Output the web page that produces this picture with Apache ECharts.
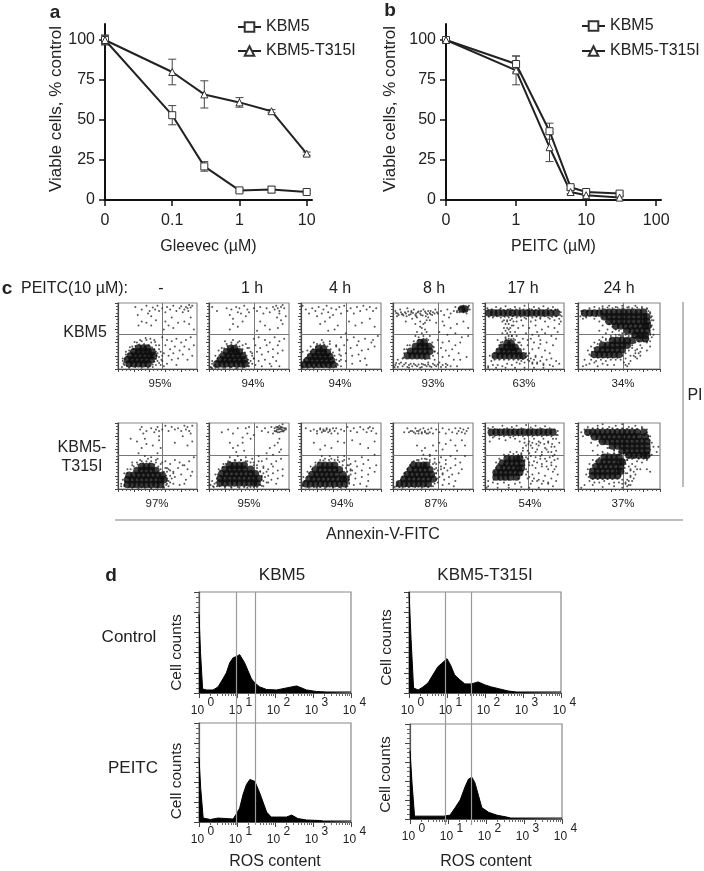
<!DOCTYPE html>
<html><head><meta charset="utf-8"><style>html,body{margin:0;padding:0;background:#fff}#c{width:704px;height:871px}</style>
<script src="https://cdn.jsdelivr.net/npm/echarts@6/dist/echarts.min.js"></script></head>
<body><div id="c"></div><script>
// ---------- panels a, b : viability curves
const seriesNames=['KBM5','KBM5-T315I'];
const aDoses=[0.01,0.1,0.3,1,3,10];
const aKBM5=[100,53,21,6,6.5,5];
const aKBM5Err=[3,6,3,1,2,1];
const aT315I=[100,80,66,61,55.5,29];
const aT315IErr=[3,8,8.5,3,1,1];
const aTicks=[0.01,0.1,1,10];
const aTickLabels=['0','0.1','1','10'];
const bDoses=[0.1,1,3,6,10,30];
const bKBM5=[100,85,43,8,5,4];
const bKBM5Err=[1,5,5,1,1,1];
const bT315I=[100,81,33,5,3,1.5];
const bT315IErr=[1,9,9,1,1,1];
const bTicks=[0.1,1,10,100];
const bTickLabels=['0','1','10','100'];
const viabilityTicks=[0,25,50,75,100];
// ---------- panel c : annexin / PI dot plots (x,y in % of the plot, read by eye)
const timeLabels=['-','1 h','4 h','8 h','17 h','24 h'];
const kbm5Pct=['95%','94%','94%','93%','63%','34%'];
const t315Pct=['97%','95%','94%','87%','54%','37%'];
// dense populations: rows of [y, x, x, ...]
const core1=[[8,14,20,26,32,38],[14,12,18,24,30,36,42],[20,16,22,28,34,40,45],[26,20,26,32,38,43],[32,26,32,37]];
const core2=[[8,10,16,22,28,34,40,45],[14,14,20,26,32,38,44],[20,18,24,30,36,42],[26,22,28,34,38],[31,27,32]];
const core3=[[7,4,10,16,22,28,34,40],[13,8,14,20,26,32,38],[19,12,18,24,30,36],[25,16,22,28,33],[31,22,28]];
const core4=[[20,18,24,30,36,42],[27,22,28,34,40,46],[34,28,34,40,45],[40,34,39],[91,86,90]];
const core5=[[85,5,11,17,23,29,35,41,47,53,59,65,71,77,83,90],[20,13,19,25,31,37,43,48],[27,18,24,30,36,42],[33,22,28,34,38],[39,28,33]];
const core6=[[85,8,14,20,26],[86,32,38,44,50,56,62,68,74,80],[79,32,38,44,50,56,62,68,74,80,84],[72,38,44,50,56,62,68,74,80,84],[65,46,52,58,64,70,76,82,85],[58,60,66,72,78,84],[51,70,76,82],[46,75,82],[22,20,26,32,38,44,50],[29,24,30,36,42,48,54],[36,30,36,42,48,54,60],[43,42,48,54,60,66]];
const core7=[[7,12,18,24,30,36,42,48,54],[14,12,18,24,30,36,42,48,54,58],[21,14,20,26,32,38,44,50,56],[28,24,30,36,42,48],[34,30,36,42]];
const core8=[[9,14,20,26,32,38,44,50,56,60],[16,14,20,26,32,38,44,50,56,62],[23,16,22,28,34,40,46,52,58],[30,20,26,32,38,44,52],[36,26,32,38,44]];
const core9=[[8,6,12,18,24,30,36,42,48,54],[15,10,16,22,28,34,40,46,52,56],[22,14,20,26,32,38,44,52],[29,18,24,30,36,42,48],[36,24,30,36,42]];
const core10=[[8,8,14,20,26,32,38,44],[15,14,20,26,32,38,44,50],[22,18,24,30,36,42,48],[29,22,28,34,40,46],[36,26,32,38,42]];
const core11=[[86,8,14,20,26,32,38,44,50,56,62,68,74,80,86],[18,14,20,26,32,40],[25,14,20,26,32,38,44],[32,18,24,30,36,42,46],[39,22,28,34,40,46],[46,28,34,40,44]];
const core12=[[86,12,18,24,30,36,42,48,54,60,66,72,80],[79,20,26,32,38,44,50,56,62,68,74,82],[72,30,36,42,48,54,60,66,72,78,84],[65,42,48,54,60,66,72,78,84],[58,54,60,66,72,78,84],[51,62,68,74,80,84],[20,18,24,30,36,42,48],[27,18,24,30,36,42,48,52],[34,22,28,34,40,46,52],[41,26,32,38,44,50,54],[48,32,38,44,50]];
// loose events: flat x,y,x,y,...
const dots1=[22,94,30,90,36,96,40,88,44,93,47,90,50,96,38,84,42,80,25,82,30,72,36,70,42,66,26,66,48,74,52,88,56,92,60,86,62,94,66,90,70,96,74,88,78,92,80,95,84,90,86,94,88,92,90,97,92,93,94,96,89,88,82,86,60,72,64,66,70,62,76,70,84,72,90,68,96,60,68,78,92,78,58,60,56,48,62,44,68,42,74,46,80,40,86,44,92,48,60,36,66,30,72,34,78,28,84,34,90,30,96,36,58,24,64,20,70,24,76,16,82,22,88,14,94,20,56,12,62,8,68,14,74,6,8,6,6,12,10,22,14,28,18,34,24,40,30,42,36,44,42,40,48,36,52,30,50,24,52,18,50,12,48,6,44,3,38,2,30,2,22,3,14,2,5,3,46,44,20,30,54,6,58,4];
const dots2=[4,94,10,88,22,92,26,82,28,90,30,76,34,94,36,86,38,92,40,84,44,96,48,90,46,80,50,86,30,68,36,64,42,72,26,60,56,92,60,88,64,94,68,84,72,92,76,86,80,94,82,90,84,96,86,92,88,88,90,94,92,97,94,92,88,84,85,78,90,74,92,68,86,62,70,66,60,58,96,80,64,72,76,60,56,46,62,48,70,44,76,40,82,48,88,42,94,46,58,36,64,32,72,36,80,30,86,36,92,28,60,26,66,22,74,26,80,18,86,24,56,16,62,12,70,14,76,8,84,12,58,6,66,4,78,4,88,4,2,3,6,5,4,12,8,20,12,28,16,32,22,38,28,40,36,40,42,36,48,32,52,26,54,20,52,12,50,4,44,3,36,2,28,3,20,2,12,2,4,1,8,2];
const dots3=[2,96,6,90,10,84,14,92,18,88,20,80,22,94,26,84,28,90,30,72,32,96,34,86,36,78,38,92,40,82,44,90,46,66,24,68,34,58,42,60,48,94,50,84,54,96,58,88,62,92,66,84,70,94,74,88,78,96,82,90,86,94,90,88,94,92,60,72,68,66,76,70,86,76,92,64,56,54,50,48,58,44,66,48,72,42,80,46,88,40,54,36,62,32,70,36,76,28,84,30,92,34,56,24,64,20,72,22,80,16,56,12,64,8,74,12,82,6,50,4,44,3,36,2,26,3,16,2,8,2,2,2,4,14,2,26,8,28,12,34,20,38,28,40,36,38,44,36,48,28,50,20,48,12,46,6,90,44,96,50];
const dots4=[3,88,6,84,9,90,12,83,15,86,18,92,20,82,23,86,26,90,29,84,32,87,35,82,38,90,41,85,44,88,47,83,50,86,53,90,56,84,60,88,64,82,68,90,72,84,76,88,80,86,82,90,84,92,88,86,90,90,94,94,96,90,92,84,78,94,70,78,62,72,54,70,46,74,40,70,34,72,28,68,36,62,42,56,30,56,38,50,46,50,24,76,16,72,64,66,72,62,80,68,88,72,94,62,58,56,68,52,78,54,86,48,94,50,56,44,62,40,70,42,78,36,84,40,60,32,66,28,74,30,82,24,56,24,62,18,70,20,76,14,84,14,92,18,52,14,58,10,66,8,72,4,80,4,52,6,46,4,40,6,34,2,28,6,22,8,16,9,10,10,6,14,4,9,12,16,14,30,18,36,50,34,52,26,2,3,20,2,36,8,44,10];
const dots5=[3,92,8,90,14,94,20,92,26,95,32,91,38,94,44,92,50,96,56,91,62,94,68,92,74,95,80,92,86,94,92,90,96,86,97,80,94,76,88,74,82,76,76,72,70,76,64,74,58,72,52,76,46,74,40,72,34,76,28,74,22,72,36,66,42,62,24,62,22,54,32,62,38,56,34,50,26,48,48,66,56,62,64,66,72,60,80,64,88,62,94,68,52,54,60,52,68,50,76,54,84,50,90,46,54,44,62,40,70,44,78,40,86,36,54,36,60,30,68,32,76,28,82,24,56,24,64,20,72,18,78,14,84,16,90,12,54,14,60,10,66,8,74,6,82,6,46,12,40,10,34,6,28,8,22,4,16,6,10,6,4,4,8,12,12,14,6,20,16,44,20,40,44,40,48,46,40,50,4,2,14,2,26,2,38,2,50,2,62,2,74,2,86,4,94,8,70,38,58,46,66,56,92,56,96,72];
const dots6=[4,88,3,80,6,76,10,78,14,92,20,94,26,92,30,95,38,96,46,94,54,96,62,94,70,96,78,94,84,92,88,86,90,80,92,74,90,66,92,60,88,54,90,48,88,42,84,40,92,52,20,76,26,72,30,66,36,60,42,56,34,54,26,58,30,48,40,50,46,52,52,50,60,46,66,36,70,40,76,36,72,30,78,32,70,24,76,26,64,20,70,18,76,20,58,16,64,12,52,14,46,14,40,14,34,12,28,14,22,12,16,14,14,22,12,28,16,34,20,40,26,44,34,46,14,8,20,10,8,14,10,6,24,4,30,8,6,4,62,8,60,4,58,6,56,10,36,6,44,6,88,34,84,28];
const dots7=[28,90,32,84,30,94,36,88,42,92,46,86,48,90,50,94,52,88,16,76,24,72,34,76,30,62,36,68,44,66,52,74,54,62,50,54,52,80,26,54,34,50,42,48,50,46,56,90,60,96,64,88,68,94,72,90,76,92,80,88,84,96,86,90,88,94,90,88,92,84,94,96,82,80,72,70,88,66,94,72,60,42,66,38,72,44,78,40,84,36,90,42,96,48,64,30,70,26,76,32,82,36,88,30,94,26,66,20,72,18,80,22,86,14,92,20,64,12,70,8,78,6,84,8,64,4,8,4,4,8,6,14,8,24,12,30,18,36,24,40,30,42,36,42,42,42,48,40,54,38,60,32,62,26,62,16,62,8,58,3,50,2,42,1,34,2,26,1,18,2];
const dots8=[16,86,24,90,30,84,36,92,42,78,46,92,48,84,50,94,26,70,30,62,36,66,42,70,34,56,44,58,52,76,56,82,60,94,66,88,70,92,74,86,78,94,82,92,84,88,86,94,88,86,90,94,92,88,94,92,96,90,80,84,88,76,76,62,82,66,86,70,90,60,62,50,72,54,80,52,88,56,66,42,72,46,78,38,84,42,90,46,68,32,74,30,80,34,86,28,92,30,68,24,74,20,80,24,86,16,92,20,66,14,72,10,78,14,84,8,68,4,2,6,4,12,6,3,10,4,8,22,12,30,18,38,24,42,32,44,40,44,48,42,56,40,60,36,64,26,66,18,64,6,56,3,48,2,38,2,28,2,20,2,92,98];
const dots9=[6,92,12,88,16,90,20,84,24,92,26,86,28,90,30,88,32,92,34,86,36,90,38,84,40,92,42,88,44,92,46,84,50,90,54,88,58,94,62,88,66,92,70,86,74,94,78,90,82,86,84,92,86,94,88,88,90,92,94,84,16,70,24,60,30,66,38,62,46,72,54,70,64,74,74,68,84,62,92,72,54,50,60,46,68,42,76,48,84,44,92,52,62,38,70,34,78,38,86,32,94,36,62,28,68,24,76,28,84,22,92,26,60,20,68,16,76,18,84,12,60,10,66,6,74,8,82,4,2,4,4,10,3,18,8,26,12,34,18,40,24,44,30,46,38,46,46,44,52,42,58,36,62,30,60,14,58,4,50,2,40,2,30,1,20,2,10,2];
const dots10=[14,86,18,92,22,88,26,86,28,92,30,88,32,84,34,90,36,86,38,92,40,88,42,84,44,90,46,86,48,92,50,84,54,90,58,86,62,92,66,84,70,90,74,86,78,92,80,84,82,88,84,92,86,86,88,90,90,84,92,88,94,92,30,66,36,58,40,62,46,52,50,66,54,58,58,70,62,60,66,68,72,74,78,66,80,58,86,74,90,66,60,48,66,44,72,50,78,46,84,40,90,50,54,38,60,34,66,38,72,32,78,36,86,30,56,28,62,24,68,28,74,22,82,24,58,18,64,14,70,18,78,12,56,10,62,6,70,8,76,4,4,4,2,3,6,6,10,14,14,24,18,30,22,36,26,42,32,44,40,46,46,44,52,40,54,32,54,24,54,14,50,4,44,3,36,2,28,3,20,3,12,2];
const dots11=[4,92,10,94,16,90,22,96,28,92,34,94,40,96,46,92,52,97,58,93,64,96,70,92,76,95,82,92,88,90,92,82,90,76,94,70,86,76,80,70,74,76,68,72,62,76,56,72,50,76,44,72,38,76,32,78,26,74,18,76,10,78,6,72,52,66,60,62,68,66,76,62,84,64,90,58,48,58,56,54,64,56,72,52,80,56,86,50,92,46,54,46,62,42,70,46,78,42,84,40,90,34,56,36,64,32,72,34,80,30,86,26,92,22,54,26,60,22,68,24,76,20,84,16,90,12,54,16,60,12,58,8,66,12,72,8,80,8,86,4,44,10,38,8,30,6,24,10,16,8,10,10,4,4,4,12,14,40,18,46,24,52,32,56,40,56,46,52,50,42,52,30,2,2,16,2,30,2,46,3,56,2,68,2];
const dots12=[4,86,6,80,8,90,12,94,18,92,24,96,30,98,38,94,46,96,54,98,62,94,70,96,78,94,84,90,88,80,90,70,88,60,92,64,90,52,84,44,78,40,72,42,66,46,60,44,70,34,76,30,64,28,58,24,64,18,70,22,62,12,58,8,54,14,50,10,44,10,38,8,32,12,26,10,20,10,14,12,10,22,12,30,14,38,18,44,24,52,30,56,36,62,24,66,16,70,18,58,30,72,44,58,52,54,58,52,96,56,98,64,84,30,88,26,64,6,60,4,54,2,44,4,30,3,18,6,8,6,4,2];
// fringe of the dense populations: flat x,y,x,y,...
const fringe1=[8,10,9,15,7,8,11,19,13,23,16,26,19,31,22,35,27,37,33,38,39,36,43,33,46,30,48,26,49,20,48,15,46,11,44,7,40,4,35,4,28,4,22,4,16,4,11,5,6,16,10,26,15,33,21,41,28,44,35,47,41,46,47,41,52,36,54,26,56,20,55,14,52,9];
const fringe2=[8,6,9,11,11,16,13,21,16,26,19,31,23,35,28,37,34,37,38,34,42,30,45,25,47,20,49,14,50,9,49,4,44,4,38,4,32,4,26,4,20,4,14,4,8,4,4,8,3,2,10,3,18,2,26,2,34,1,42,2,54,8,56,16,54,24,50,32,46,38,38,42,30,44,20,42];
const fringe3=[1,5,2,9,4,13,7,17,9,21,12,26,15,30,19,34,24,37,29,37,33,34,37,30,40,25,42,20,44,14,45,8,44,4,38,4,32,4,26,4,20,4,14,4,8,4,2,4,48,22,50,14,48,30,44,34,36,42,26,44,16,40];
const fringe4=[4,85,7,82,10,86,13,81,16,84,19,87,22,83,25,85,28,82,31,86,34,84,37,81,40,87,43,83,46,85,49,82,52,84,55,86,5,80,11,83,17,80,23,88,29,80,35,88,41,80,47,88,80,88,83,86,85,94,88,96,91,88,93,90,95,96,82,92,32,48,36,54,40,60,34,64,38,68,42,74,30,78,44,78,36,44,42,46,28,50,3,6,6,3,8,8,12,4,14,7,18,3,20,6,24,4,26,8,30,4,32,7,36,3,38,7,42,4,44,7,48,3,50,8,54,4,56,7,60,3,62,6,66,3,68,6,13,17,14,24,17,30,21,36,26,42,32,44,38,46,44,44,49,40,51,33,52,27,50,20,46,16,40,15];
const fringe5=[5,79,10,78,15,80,20,78,25,79,30,78,35,80,40,78,45,79,50,78,55,80,60,78,65,79,70,78,75,80,80,78,85,79,90,80,95,82,4,89,9,90,14,89,19,90,24,89,29,90,34,89,39,90,44,89,49,90,54,89,59,90,64,89,69,90,74,89,79,90,84,89,89,90,94,87,24,74,28,72,32,74,36,72,26,68,30,68,34,66,28,62,30,60,26,58,32,56,28,54,30,50,34,50,26,46,30,46,36,46,10,18,12,24,15,30,18,36,22,41,27,44,33,45,38,44,42,40,46,36,49,30,52,24,52,18,48,15,42,14,36,14,30,14,24,14,18,14,54,20,58,16,62,14,56,12,60,8,66,10,64,18,70,12,74,8,50,10,44,8];
const fringe6=[86,88,88,84,89,78,90,74,88,70,89,64,87,58,88,52,86,46,84,42,80,42,74,42,30,92,36,93,42,92,48,93,54,92,60,93,66,92,72,93,78,92,84,91,28,84,30,78,34,72,38,68,42,64,46,60,50,58,54,54,58,52,62,50,66,50,5,84,6,88,10,80,12,88,16,81,18,88,22,80,24,88,28,88,50,52,54,50,70,48,16,20,17,26,20,32,24,38,28,42,34,44,40,46,46,48,52,47,56,44,62,38,66,32,62,28,58,24,54,20,48,17,42,17,36,17,30,17,24,17,70,28,74,24,68,20,72,16];
const fringe7=[8,6,9,12,10,18,12,24,16,30,20,34,25,37,32,39,40,39,46,37,51,34,54,30,58,26,61,20,62,13,61,6,58,2,50,3,40,3,30,3,20,3,14,3,66,10,68,16,70,24,62,32,56,40,48,44,38,46,28,44,18,40,66,28,4,4];
const fringe8=[9,10,10,16,11,22,14,28,17,33,21,38,26,41,33,43,40,44,46,42,52,40,56,36,60,32,64,27,66,20,68,12,66,5,60,3,52,3,44,3,36,3,28,3,20,4,13,4,7,8,5,4,70,18,72,26,68,34,62,42,54,46,46,48,36,50,26,48,74,10,82,88,84,94,86,86,88,92,90,87,92,93,94,89,96,92,88,96,85,90,87,90,89,91,91,90,86,93,90,93,84,87,93,87];
const fringe9=[3,6,5,12,8,18,10,24,14,30,18,36,22,40,28,43,35,44,42,44,48,41,52,36,56,32,58,26,60,18,60,8,56,3,48,3,40,3,32,3,24,3,16,3,8,3,62,22,64,28,60,36,54,44,46,48,36,50,26,50,20,88,24,90,28,88,32,90,36,88];
const fringe10=[5,5,6,10,10,13,12,18,15,24,18,30,21,36,24,41,30,44,36,46,42,45,46,41,50,38,52,30,54,24,55,16,52,8,48,4,40,4,32,4,24,4,16,4,8,3,60,30,62,22,64,32,58,40,52,46,46,50,38,52,20,86,24,88,28,84,32,88,36,84,40,86,44,84];
const fringe11=[6,81,12,80,18,81,24,80,30,81,36,80,42,81,48,80,54,81,60,80,66,81,72,80,78,81,84,80,90,82,6,90,12,91,18,90,24,91,30,90,36,91,42,90,48,91,54,90,60,91,66,90,72,91,78,90,84,90,92,88,50,70,55,68,60,70,65,68,70,70,75,68,80,72,85,68,88,64,48,62,54,58,58,66,66,60,72,56,78,60,84,56,88,52,46,54,52,48,58,50,64,48,70,50,76,46,82,48,88,44,50,44,56,40,60,36,66,40,72,38,78,34,84,36,88,30,11,14,12,20,12,26,14,32,17,38,20,44,25,50,30,52,36,53,42,52,47,49,49,42,50,36,48,28,46,22,42,16,36,14,30,14,24,14,18,14,52,22,56,18,62,16,68,14,74,12,80,10];
const fringe12=[10,88,12,82,18,84,24,92,30,92,36,91,42,92,48,91,54,92,60,91,66,92,72,91,78,92,84,86,86,80,87,74,87,68,87,62,86,56,87,50,84,46,80,46,74,46,68,48,62,48,16,80,22,75,26,72,32,68,38,62,44,60,50,56,56,54,60,52,56,44,60,44,58,38,62,34,66,38,64,30,68,26,72,30,60,24,64,20,68,16,13,18,14,24,15,30,18,36,22,42,26,47,30,52,36,54,44,54,50,52,54,46,56,40,57,32,55,26,52,20,48,16,42,15,36,15,30,15,24,15,18,15,58,10,60,14,62,6,66,12,54,8];
// ---------- panel d : ROS histograms (x = decade of fluorescence, y = % of plot height)
const histKBM5Control=[[0,78],[0.035,78],[0.04,40],[0.09,40],[0.095,4],[0.2,3],[0.37,3],[0.5,6],[0.63,14],[0.72,20],[0.81,30],[0.9,35],[0.98,36],[1.07,38],[1.12,39],[1.2,30],[1.29,22],[1.38,14],[1.47,10],[1.6,6],[1.78,3.5],[2.04,3],[2.3,5],[2.57,7],[2.83,3],[3.09,1.5],[3.36,1],[4,1]];
const histT315Control=[[0,100],[0.05,100],[0.055,53],[0.09,53],[0.12,5],[0.24,3],[0.37,6],[0.5,10],[0.63,18],[0.76,26],[0.85,29],[1,34],[1.09,28],[1.2,18],[1.34,13],[1.47,9],[1.64,9],[1.82,11],[2,8],[2.17,6],[2.39,4],[2.61,2],[2.83,1],[4,1]];
const histKBM5Peitc=[[0,65],[0.04,65],[0.045,34],[0.09,34],[0.11,4],[0.3,2.5],[0.5,4],[0.9,3],[0.98,8],[1.07,14],[1.16,28],[1.25,38],[1.34,43],[1.47,41],[1.56,33],[1.64,25],[1.78,10],[1.9,5],[2.04,5],[2.3,5],[2.44,7],[2.6,3.5],[2.83,2],[3.18,1.5],[3.27,1],[4,1]];
const histT315Peitc=[[0,72],[0.05,72],[0.055,37],[0.09,37],[0.12,3],[0.5,3],[0.88,3],[1.05,4],[1.19,12],[1.32,20],[1.45,34],[1.54,42],[1.63,44],[1.71,38],[1.8,25],[1.89,12],[2.07,7],[2.29,4],[2.55,2],[2.65,1],[4,1]];
const decades=[0,1,2,3,4];
const minorDecades=[0.30,0.48,0.60,0.70,0.78,0.85,0.90,0.95,1.30,1.48,1.60,1.70,1.78,1.85,1.90,1.95,2.30,2.48,2.60,2.70,2.78,2.85,2.90,2.95,3.30,3.48,3.60,3.70,3.78,3.85,3.90,3.95];
const gatesLeft=[0.97,1.48];
const gatesRight=[0.95,1.63];

const FONT='"Liberation Sans",Arial,sans-serif', INK='#222';
const grid=[],xAxis=[],yAxis=[],series=[],graphic=[];
const txt=(t,x,y,s=16,o={})=>graphic.push({type:'text',x,y,z:10,style:Object.assign({text:t,fill:INK,font:`${o.bold?'bold ':''}${s}px ${FONT}`,align:o.align||'center',verticalAlign:'middle'},o.style||{})});
const rule=(x1,y1,x2,y2)=>graphic.push({type:'line',z:5,shape:{x1,y1,x2,y2},style:{stroke:'#aaa',lineWidth:1.6}});

function errSeries(xs,ys,errs,g){
  return {type:'custom',xAxisIndex:g,yAxisIndex:g,z:3,silent:true,clip:false,encode:{x:0,y:[1,2]},
    data:xs.map((x,i)=>[x,ys[i]-errs[i],ys[i]+errs[i]]),
    renderItem(p,api){
      const a=api.coord([api.value(0),api.value(1)]),b=api.coord([api.value(0),api.value(2)]);
      const st={stroke:'#444',lineWidth:1,fill:null};
      return {type:'group',children:[
        {type:'line',shape:{x1:a[0],y1:a[1],x2:b[0],y2:b[1]},style:st},
        {type:'line',shape:{x1:a[0]-4,y1:a[1],x2:a[0]+4,y2:a[1]},style:st},
        {type:'line',shape:{x1:b[0]-4,y1:b[1],x2:b[0]+4,y2:b[1]},style:st}]};
    }};
}
function curvePanel(left,width,xmin,xmax,ticks,labels,xName,doses,v1,e1,v2,e2,yGap){
  const g=grid.length;
  grid.push({left,width,top:24,height:176});
  xAxis.push({gridIndex:g,type:'log',min:xmin,max:xmax,name:xName,nameLocation:'middle',nameGap:39,
    nameTextStyle:{fontSize:16,color:INK,fontFamily:FONT},
    axisLine:{onZero:false,lineStyle:{color:'#111',width:2}},splitLine:{show:false},minorTick:{show:false},
    axisTick:{length:6,lineStyle:{color:'#111',width:1.5},customValues:ticks},
    axisLabel:{fontSize:16,color:INK,fontFamily:FONT,margin:13,customValues:ticks,showMaxLabel:true,hideOverlap:false,formatter:v=>{const i=ticks.findIndex(t=>Math.abs(t-v)<t*1e-6);return i<0?'':labels[i];}}});
  yAxis.push({gridIndex:g,type:'value',min:0,max:110,name:'Viable cells, % control',nameLocation:'middle',nameGap:yGap,
    nameTextStyle:{fontSize:17,color:INK,fontFamily:FONT,padding:[0,0,0,6]},
    axisLine:{show:true,lineStyle:{color:'#111',width:2}},splitLine:{show:false},
    axisTick:{show:true,length:6,lineStyle:{color:'#111',width:1.5},customValues:viabilityTicks},
    axisLabel:{fontSize:16,color:INK,fontFamily:FONT,margin:10,customValues:viabilityTicks}});
  series.push(errSeries(doses,v1,e1,g),errSeries(doses,v2,e2,g));
  [[seriesNames[0],v1,'rect',7],[seriesNames[1],v2,'triangle',7]].forEach(([name,v,symbol,symbolSize])=>series.push({
    type:'line',name,xAxisIndex:g,yAxisIndex:g,z:4,symbol,symbolSize,showAllSymbol:true,clip:false,
    data:doses.map((d,i)=>[d,v[i]]),lineStyle:{color:INK,width:2},
    itemStyle:{color:'#fff',borderColor:'#333',borderWidth:1}}));
}
curvePanel(105,207,0.01,12,aTicks,aTickLabels,'Gleevec (µM)',aDoses,aKBM5,aKBM5Err,aT315I,aT315IErr,40);
curvePanel(446,215,0.1,117,bTicks,bTickLabels,'PEITC (µM)',bDoses,bKBM5,bKBM5Err,bT315I,bT315IErr,47);

const pairs=f=>{const o=[];for(let i=0;i<f.length;i+=2)o.push([f[i],f[i+1]]);return o;};
const rows=r=>r.flatMap(([y,...xs])=>xs.map(x=>[x,y]));
function dotPlot(left,right,top,bottom,cx,cy,core,dots){
  const g=grid.length;
  grid.push({left,width:right-left,top,height:bottom-top,show:true,borderColor:'#888',borderWidth:1.2,backgroundColor:'transparent'});
  const tk=(show)=>({show,length:3,lineStyle:{color:'#444',width:1}});
  xAxis.push({gridIndex:g,type:'value',min:0,max:100,interval:20,axisLabel:{show:false},splitLine:{show:false},
    axisLine:{onZero:false,lineStyle:{color:'#444',width:1.2}},axisTick:tk(true),minorTick:{show:true,splitNumber:4,length:2,lineStyle:{color:'#555'}}});
  yAxis.push({gridIndex:g,type:'value',min:0,max:100,interval:20,axisLabel:{show:false},splitLine:{show:false},
    axisLine:{show:true,onZero:false,lineStyle:{color:'#444',width:1.2}},axisTick:tk(true),minorTick:{show:true,splitNumber:4,length:2,lineStyle:{color:'#555'}}});
  series.push({type:'scatter',xAxisIndex:g,yAxisIndex:g,z:2,silent:true,symbolSize:2,data:pairs(dots),itemStyle:{color:'#2a2a2a'},
    markLine:{silent:true,symbol:'none',animation:false,label:{show:false},z:1,lineStyle:{color:'#777',width:1,type:'solid'},data:[{xAxis:cx},{yAxis:cy}]}});
  series.push({type:'scatter',xAxisIndex:g,yAxisIndex:g,z:3,silent:true,symbolSize:7.5,data:rows(core),itemStyle:{color:'#0c0c0c'}});
}
const colEdges=[[118,197],[209,289],[301,381],[393,473],[485,564],[578,660]];
const crossX=[56,56,56,56,55,55];
const topDots=[dots1.concat(fringe1),dots2.concat(fringe2),dots3.concat(fringe3),dots4.concat(fringe4),dots5.concat(fringe5),dots6.concat(fringe6)];
const botDots=[dots7.concat(fringe7),dots8.concat(fringe8),dots9.concat(fringe9),dots10.concat(fringe10),dots11.concat(fringe11),dots12.concat(fringe12)];
[core1,core2,core3,core4,core5,core6].forEach((c,i)=>dotPlot(colEdges[i][0],colEdges[i][1],303,369,crossX[i],52,c,topDots[i]));
[core7,core8,core9,core10,core11,core12].forEach((c,i)=>dotPlot(colEdges[i][0],colEdges[i][1],423,489,crossX[i],51,c,botDots[i]));

function overlay(left,right,gates){
  const g=grid.length;
  grid.push({left,width:right-left,top:592,height:233});
  xAxis.push({gridIndex:g,type:'value',min:0,max:4,show:false});
  yAxis.push({gridIndex:g,type:'value',min:0,max:100,show:false});
  series.push({type:'scatter',xAxisIndex:g,yAxisIndex:g,data:[],z:1,markLine:{silent:true,symbol:'none',animation:false,label:{show:false},lineStyle:{color:'#999',width:1.2,type:'solid'},data:gates.map(v=>({xAxis:v}))}});
}
overlay(199,351,gatesLeft);
overlay(409,561,gatesRight);
function histPlot(left,right,top,bottom,data,namePad,xName,nameGapY,xGap){
  const g=grid.length;
  grid.push({left,width:right-left,top,height:bottom-top,show:true,borderColor:'#888',borderWidth:1.2,backgroundColor:'transparent'});
  const base={gridIndex:g,type:'value',min:0,max:4,position:'bottom',splitLine:{show:false}};
  xAxis.push(Object.assign({},base,{interval:1,name:xName,nameLocation:'middle',nameGap:xGap,nameTextStyle:{fontSize:16,color:INK,fontFamily:FONT},
    axisLine:{onZero:false,lineStyle:{color:'#555',width:1.2}},axisTick:{length:5,lineStyle:{color:'#444'},customValues:decades},
    axisLabel:{margin:4,padding:[0,0,0,7],customValues:decades,hideOverlap:false,showMinLabel:true,showMaxLabel:true,formatter:v=>`{b|10}{s| ${v}}`,
      rich:{b:{fontSize:12,color:INK,fontFamily:FONT,lineHeight:20,verticalAlign:'bottom'},s:{fontSize:12,color:INK,fontFamily:FONT,lineHeight:20,verticalAlign:'top',padding:[0,0,5,0]}}}}));
  yAxis.push({gridIndex:g,type:'value',min:0,max:100,interval:20,name:'Cell counts',nameLocation:'middle',nameGap:nameGapY,
    nameTextStyle:{fontSize:15.5,color:INK,fontFamily:FONT,padding:[0,namePad,0,0]},splitLine:{show:false},axisLabel:{show:false},
    axisLine:{show:true,onZero:false,lineStyle:{color:'#555',width:1.2}},axisTick:{length:5,lineStyle:{color:'#444'}},minorTick:{show:true,splitNumber:4,length:3,lineStyle:{color:'#666'}}});
  const xi=xAxis.length;
  xAxis.push(Object.assign({},base,{axisLine:{show:false,onZero:false},axisLabel:{show:false},axisTick:{length:3,lineStyle:{color:'#666'},customValues:minorDecades}}));
  series.push({type:'line',xAxisIndex:xi-1,yAxisIndex:yAxis.length-1,z:2,symbol:'none',silent:true,data,lineStyle:{color:'#000',width:1},areaStyle:{color:'#000',opacity:1}});
}
const histDefs=[[199,351,592,693,histKBM5Control,20,'',14,32],[409,561,592,693,histT315Control,10,'',14,32],[199,351,723,824,histKBM5Peitc,17,'ROS content',14,32],[410,562,724,826,histT315Peitc,6,'ROS content',16,35]];
histDefs.forEach(d=>histPlot(...d));

txt('a',55,13,19,{bold:true}); txt('b',390,11,19,{bold:true}); txt('c',7,289,19,{bold:true}); txt('d',111,576,19,{bold:true});
txt('PEITC(10 µM):',21,289,16,{align:'left'});
const colTitleX=[161,252,340,434,523,619];
timeLabels.forEach((t,i)=>txt(t,colTitleX[i],289,16));
const pctTopX=[160,253,340,433,524,623], pctBotX=[157,249,342,436,530,623];
kbm5Pct.forEach((t,i)=>txt(t,pctTopX[i],384,11.5));
t315Pct.forEach((t,i)=>txt(t,pctBotX[i],504,11.5));
txt('KBM5',85,333,16); txt('KBM5-',82,448,16); txt('T315I',82,467,16);
txt('PI',695,396,16); txt('Annexin-V-FITC',383,535,16);
rule(683,302,683,487); rule(115,520,683,520);
txt('KBM5',282,575,17); txt('KBM5-T315I',485,575,17);
txt('Control',129,637,17); txt('PEITC',133,768,17);

const legendBase={orient:'vertical',itemWidth:23,itemHeight:12,data:seriesNames,textStyle:{fontSize:16,color:INK,fontFamily:FONT},selectedMode:false};
const chart=echarts.init(document.getElementById('c'),null,{renderer:'canvas'});
chart.setOption({animation:false,backgroundColor:'#fff',textStyle:{fontFamily:FONT},
  legend:[Object.assign({left:232,top:14,itemGap:8},legendBase),Object.assign({left:576,top:13,itemGap:9},legendBase)],
  grid,xAxis,yAxis,series,graphic});
</script></body></html>
